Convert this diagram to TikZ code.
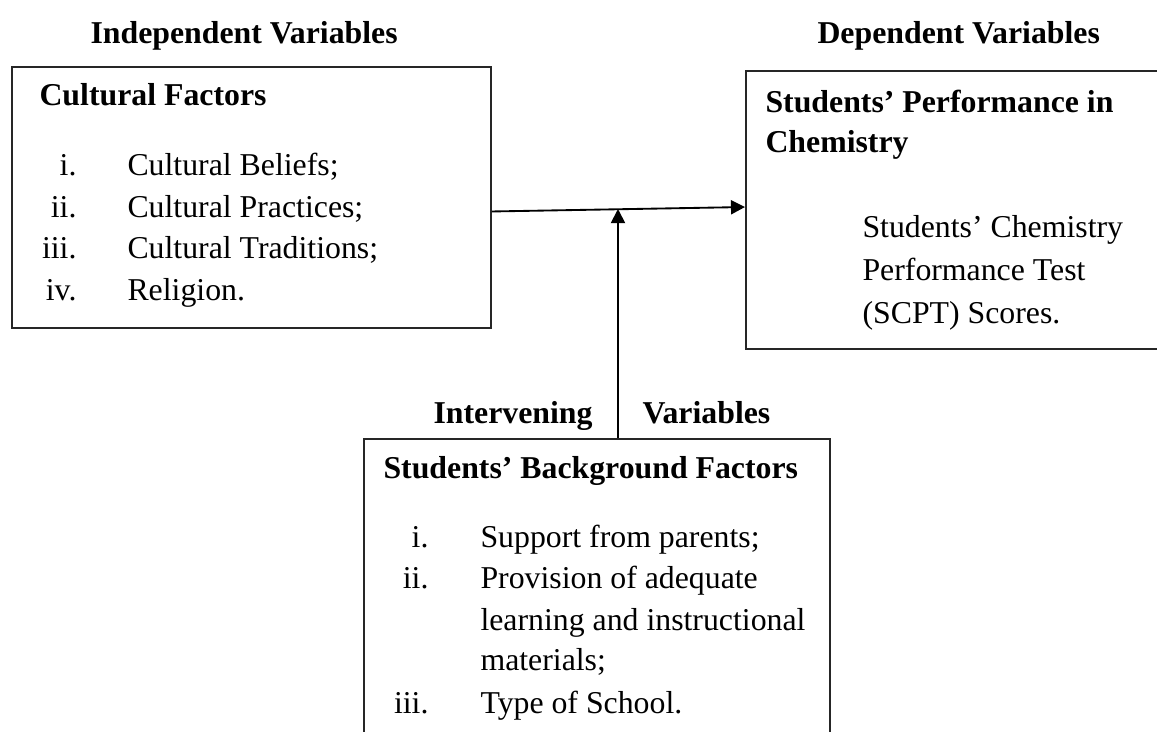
\documentclass[tikz,border=0pt]{standalone}
\usepackage{fontspec}
\setmainfont{Liberation Serif}
\usetikzlibrary{arrows.meta}
\newcommand{\px}{0.3774pt}
\tikzstyle{box}=[draw=black!85, line width=0.7pt, inner sep=0pt, anchor=north west]
\tikzstyle{head}=[font=\fontsize{12}{14}\selectfont\bfseries, anchor=base west, inner sep=0pt]
\tikzstyle{txt}=[font=\fontsize{12}{14}\selectfont, anchor=base west, inner sep=0pt]
\tikzstyle{num}=[font=\fontsize{12}{14}\selectfont, anchor=base east, inner sep=0pt]

\begin{document}
\begin{tikzpicture}[x=\px, y=-\px,
    >={Triangle[length=5.3pt,width=5.3pt]}]
  \path[use as bounding box] (0,0) rectangle (1157,731);
  \clip (0,0) rectangle (1157,731);
  % headings
  \node[head] (indep) at (90,43) {Independent Variables};
  \node[head] (dep) at (817,43) {Dependent Variables};
  % boxes
  \node[box, minimum width=479*\px, minimum height=261*\px] (cultural) at (11,66) {};
  \node[box, minimum width=430*\px, minimum height=278*\px] (perf) at (745,70) {};
  \node[box, minimum width=466*\px, minimum height=320*\px] (backgr) at (363,438) {};
  % cultural factors
  \node[head] (cultitle) at (39,105) {Cultural Factors};
  \node[num] (ci) at (77,175) {i.};
  \node[txt] (cbel) at (127,175) {Cultural Beliefs;};
  \node[num] (cii) at (77,217) {ii.};
  \node[txt] (cprac) at (127,217) {Cultural Practices;};
  \node[num] (ciii) at (77,258) {iii.};
  \node[txt] (ctrad) at (127,258) {Cultural Traditions;};
  \node[num] (civ) at (77,300) {iv.};
  \node[txt] (crel) at (127,300) {Religion.};
  % performance
  \node[head] (perftitle) at (765,112) {Students’ Performance in};
  \node[head] (perftitleb) at (765,152) {Chemistry};
  \node[txt] (scpta) at (862,237) {Students’ Chemistry};
  \node[txt] (scptb) at (862,280) {Performance Test};
  \node[txt] (scptc) at (862,323) {(SCPT) Scores.};
  % background factors
  \node[head] (interv) at (433,423) {Intervening};
  \node[head] (vars) at (642,423) {Variables};
  \node[head] (bgtitle) at (383,478) {Students’ Background Factors};
  \node[num] (bi) at (429,547) {i.};
  \node[txt] (bsup) at (480,547) {Support from parents;};
  \node[num] (bii) at (429,588) {ii.};
  \node[txt] (bprov) at (480,588) {Provision of adequate};
  \node[txt] (blearn) at (480,630) {learning and instructional};
  \node[txt] (bmat) at (480,670) {materials;};
  \node[num] (biii) at (429,713) {iii.};
  \node[txt] (btype) at (480,713) {Type of School.};
  % arrows
  \coordinate (meet) at (618,209);
  \draw [line width=0.7pt,->] ([yshift=-5.3pt]cultural.east) -- ([yshift=1.1pt]perf.west);
  \draw [line width=0.7pt,->] (backgr.north -| meet) -- (meet);
\end{tikzpicture}
\end{document}
